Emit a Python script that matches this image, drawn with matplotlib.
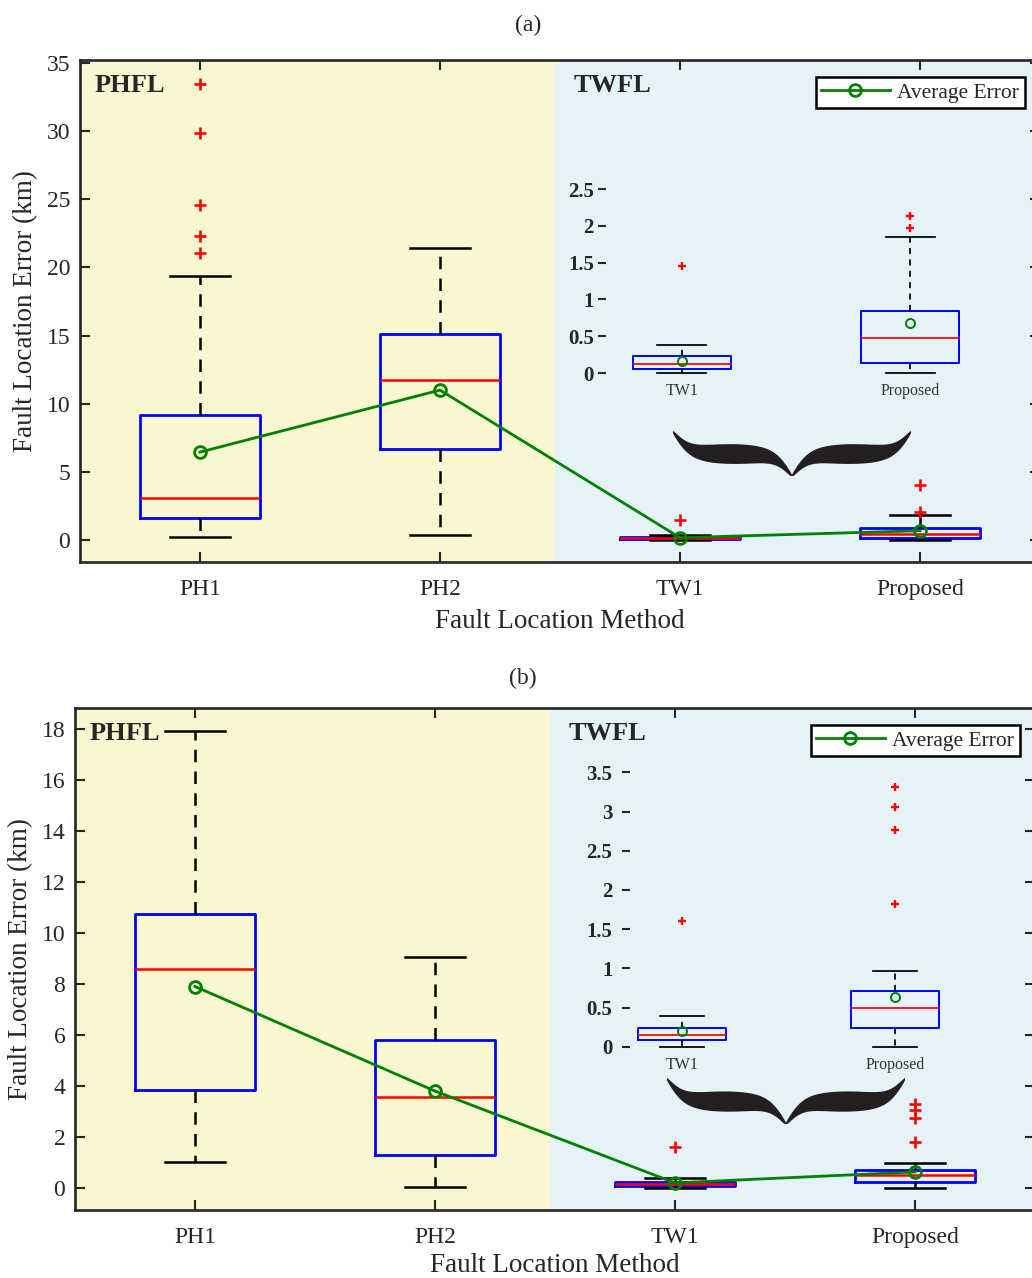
import matplotlib
matplotlib.use('Agg')
import matplotlib.pyplot as plt
import numpy as np
from matplotlib.patches import Polygon

plt.rcParams['font.family'] = ['Liberation Serif', 'DejaVu Serif']

methods = ['PH1', 'PH2', 'TW1', 'Proposed']
inset_methods = ['TW1', 'Proposed']

# panel (a): whisker low, q1, median, q3, whisker high, outliers, mean
a_whislo = [0.25, 0.35, 0.0, 0.0]
a_q1 = [1.6, 6.7, 0.05, 0.14]
a_med = [3.1, 11.75, 0.12, 0.47]
a_q3 = [9.2, 15.15, 0.23, 0.85]
a_whishi = [19.4, 21.45, 0.38, 1.85]
a_fliers = [[21.05, 22.3, 24.6, 29.9, 33.45], [], [1.5], [2.05, 4.05]]
a_mean = [6.45, 11.0, 0.17, 0.68]
a_inset_fliers = [[1.46], [1.97, 2.13]]

# panel (b)
b_whislo = [1.0, 0.02, 0.0, 0.0]
b_q1 = [3.85, 1.3, 0.09, 0.24]
b_med = [8.6, 3.55, 0.15, 0.5]
b_q3 = [10.75, 5.8, 0.24, 0.71]
b_whishi = [17.9, 9.05, 0.39, 0.97]
b_fliers = [[], [], [1.6], [1.82, 2.76, 3.06, 3.31]]
b_mean = [7.9, 3.8, 0.2, 0.63]
b_inset_fliers = [[1.6], [1.82, 2.76, 3.06, 3.31]]

DARK = '#262626'
YELLOW = '#F8F7D0'
BLUE = '#E5F3F9'
GREEN = '#008000'
W, H = 1032, 1278


def make_stats(whislo, q1, med, q3, whishi, fliers):
    return [dict(whislo=a, q1=b, med=c, q3=d, whishi=e, fliers=f)
            for a, b, c, d, e, f in zip(whislo, q1, med, q3, whishi, fliers)]


def draw_boxes(ax, stats, pos, width, lw, ms, mew, dash):
    ax.bxp(stats, positions=pos, widths=width, showfliers=True,
           boxprops=dict(color='blue', lw=lw),
           medianprops=dict(color='red', lw=lw * 0.9),
           whiskerprops=dict(color='black', lw=lw * 0.9, ls=(0, dash)),
           capprops=dict(color='black', lw=lw * 0.9),
           flierprops=dict(marker='+', markeredgecolor='red', markersize=ms,
                           markeredgewidth=mew, ls='none'),
           manage_ticks=False, zorder=3)


def add_brace(fig, x0, x1, y0, y1, beta=28.0):
    # curly brace pointing down, drawn as a filled shape (pixel box, y from top)
    x = np.linspace(0, 1, 401)
    t = np.where(x <= 0.5, x, 1 - x)
    s = 1 / (1 + np.exp(-beta * t)) + 1 / (1 + np.exp(-beta * (t - 0.5)))
    c = 1.5 - s
    thick = 0.025 + 0.2 * np.sin(np.pi * t / 0.5) ** 0.7
    top = np.clip(c + thick, 0, 1.05)
    bot = np.clip(c - thick, 0, 1.05)
    xs = np.concatenate([x, x[::-1]])
    ys = np.concatenate([top, bot[::-1]])
    ys = (ys - ys.min()) / (ys.max() - ys.min())
    fx = (x0 + xs * (x1 - x0)) / W
    fy = 1 - (y1 - ys * (y1 - y0)) / H
    fig.add_artist(Polygon(np.column_stack([fx, fy]), closed=True,
                           transform=fig.transFigure, fc='#231F20', ec='none'))


def main_panel(fig, rect, stats, means, ylim, yticks, title, title_xy, xlabelpad):
    ax = fig.add_axes(rect)
    ax.axvspan(0.5, 2.48, color=YELLOW, zorder=0, lw=0)
    ax.axvspan(2.48, 4.6, color=BLUE, zorder=0, lw=0)
    pos = np.arange(1, len(methods) + 1)
    draw_boxes(ax, stats, pos, 0.5, 2.0, 9, 1.9, (5.0, 3.7))
    ax.plot(pos, means, color=GREEN, lw=2.0, marker='o', ms=8.5, mfc='none',
            mew=2.0, label='Average Error', zorder=5)
    ax.set_xlim(0.5, 4.5)
    ax.set_ylim(*ylim)
    ax.set_yticks(yticks)
    ax.set_xticks(pos)
    ax.set_xticklabels(methods)
    ax.tick_params(direction='in', length=7, width=1.5, top=True, right=True,
                   labelsize=17, colors=DARK, pad=7)
    ax.tick_params(axis='x', pad=12)
    for s in ax.spines.values():
        s.set_linewidth(1.9)
        s.set_color(DARK)
    ax.set_xlabel('Fault Location Method', fontsize=19.5, color=DARK, labelpad=xlabelpad)
    ax.set_ylabel('Fault Location Error (km)', fontsize=19.5, color=DARK, labelpad=6)
    ax.text(0.0156, 0.95, 'PHFL', transform=ax.transAxes, fontsize=19,
            fontweight='bold', color=DARK, va='center')
    ax.text(0.5146, 0.95, 'TWFL', transform=ax.transAxes, fontsize=19,
            fontweight='bold', color=DARK, va='center')
    leg = ax.legend(loc='upper right', bbox_to_anchor=(0.984, 0.966), fontsize=15.5,
                    fancybox=False, framealpha=1, edgecolor='black',
                    handlelength=3.2, handletextpad=0.35, borderpad=0.25,
                    borderaxespad=0)
    leg.get_frame().set_linewidth(1.8)
    for t in leg.get_texts():
        t.set_color(DARK)
    fig.text(*title_xy, title, fontsize=17, color=DARK, ha='center', va='center')
    return ax


def inset_panel(fig, rect, stats, means, xlim, ylim, yticks, ylabels, width, pad):
    ax = fig.add_axes(rect)
    ax.patch.set_alpha(0)
    pos = np.arange(1, len(inset_methods) + 1)
    draw_boxes(ax, stats, pos, width, 1.4, 6, 1.7, (3.5, 3.0))
    ax.plot(pos, means, ls='none', color=GREEN, marker='o', ms=6.5, mfc='none', mew=1.4,
            zorder=5)
    ax.set_xlim(*xlim)
    ax.set_ylim(*ylim)
    ax.set_xticks(pos)
    ax.set_xticklabels(inset_methods, fontsize=11.5, color='#333333')
    ax.set_yticks(yticks)
    ax.set_yticklabels(ylabels, fontsize=15, fontweight='bold', color=DARK)
    ax.tick_params(axis='x', length=0, pad=3)
    ax.tick_params(axis='y', direction='in', length=6, width=1.5, colors=DARK, pad=pad)
    for s in ax.spines.values():
        s.set_visible(False)
    return ax


fig = plt.figure(figsize=(W / 100, H / 100), dpi=100)

a_stats = make_stats(a_whislo, a_q1, a_med, a_q3, a_whishi, a_fliers)
main_panel(fig, [80 / W, 1 - 562 / H, 960 / W, 502 / H], a_stats, a_mean,
           (-1.614, 35.22), np.arange(0, 36, 5), '(a)', (528 / W, 1 - 25 / H), 7)

b_stats = make_stats(b_whislo, b_q1, b_med, b_q3, b_whishi, b_fliers)
main_panel(fig, [75 / W, 1 - 1210 / H, 960 / W, 502 / H], b_stats, b_mean,
           (-0.863, 18.82), np.arange(0, 19, 2), '(b)', (523 / W, 1 - 678 / H), 4)

a_in_stats = make_stats(a_whislo[2:], a_q1[2:], a_med[2:], a_q3[2:], a_whishi[2:],
                        a_inset_fliers)
inset_panel(fig, [598 / W, 1 - 378.9 / H, 396 / W, 198.5 / H], a_in_stats, a_mean[2:],
            (0.632, 2.368), (-0.08, 2.62), [0, 0.5, 1, 1.5, 2, 2.5],
            ['0', '0.5', '1', '1.5', '2', '2.5'], 0.43, 3)

b_in_stats = make_stats(b_whislo[2:], b_q1[2:], b_med[2:], b_q3[2:], b_whishi[2:],
                        b_inset_fliers)
inset_panel(fig, [622 / W, 1 - 1053 / H, 333 / W, 288.5 / H], b_in_stats, b_mean[2:],
            (0.718, 2.282), (-0.08, 3.6), [0, 0.5, 1, 1.5, 2, 2.5, 3, 3.5],
            ['0', '0.5', '1', '1.5', '2', '2.5', '3', '3.5'], 0.41, 7)

add_brace(fig, 673, 911, 431, 476)
add_brace(fig, 667, 905, 1078, 1124)

fig.savefig('out.png', dpi=100)
